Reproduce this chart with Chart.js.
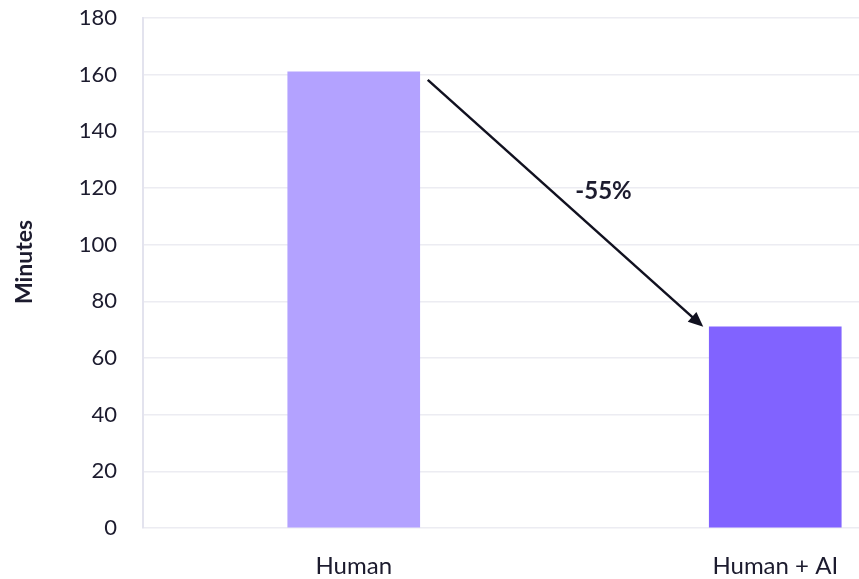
<!DOCTYPE html>
<html>
<head>
<meta charset="utf-8">
<script src="https://cdn.jsdelivr.net/npm/chart.js@4.4.1/dist/chart.umd.min.js"></script>
<style>
  html, body { margin: 0; padding: 0; background: #ffffff; overflow: hidden; }
  #wrap { width: 986px; height: 579px; position: relative; }
</style>
</head>
<body>
<div id="wrap"><canvas id="c"></canvas></div>
<script>
const categories = ['Human', 'Human + AI'];
const minutes = [161, 71];
const barColors = ['#b3a2ff', '#8163ff'];
const yTicks = { min: 0, max: 180, step: 20 };
const changeLabel = '-55%';
const axisTitle = 'Minutes';

const textColor = '#1c1b2e';
const fontFamily = 'Lato, "Noto Sans", sans-serif';

const arrowPlugin = {
  id: 'arrowPlugin',
  afterDatasetsDraw(chart) {
    const meta = chart.getDatasetMeta(0);
    const a = meta.data[0], b = meta.data[1];
    if (!a || !b) return;
    const ctx = chart.ctx;
    const x1 = a.x + a.width / 2 + 8, y1 = a.y + 8;
    const x2 = b.x - b.width / 2 - 6, y2 = b.y;
    const ang = Math.atan2(y2 - y1, x2 - x1);
    const headLen = 15, headW = 6.5;
    ctx.save();
    ctx.strokeStyle = '#111120';
    ctx.fillStyle = '#111120';
    ctx.lineWidth = 2.5;
    ctx.beginPath();
    ctx.moveTo(x1, y1);
    ctx.lineTo(x2 - Math.cos(ang) * headLen * 0.8, y2 - Math.sin(ang) * headLen * 0.8);
    ctx.stroke();
    ctx.beginPath();
    ctx.moveTo(x2, y2);
    const bx = x2 - Math.cos(ang) * headLen, by = y2 - Math.sin(ang) * headLen;
    ctx.lineTo(bx + Math.sin(ang) * headW, by - Math.cos(ang) * headW);
    ctx.lineTo(bx - Math.sin(ang) * headW, by + Math.cos(ang) * headW);
    ctx.closePath();
    ctx.fill();
    const mx = (x1 + x2) / 2, my = (y1 + y2) / 2;
    ctx.font = 'bold 24px ' + fontFamily;
    ctx.fillStyle = textColor;
    ctx.textAlign = 'center';
    ctx.textBaseline = 'middle';
    ctx.fillText(changeLabel, mx + 38, my - 12);
    ctx.restore();
  }
};

const yTitlePlugin = {
  id: 'yTitlePlugin',
  afterDraw(chart) {
    const ctx = chart.ctx;
    const area = chart.chartArea;
    ctx.save();
    ctx.font = 'bold 23px ' + fontFamily;
    ctx.fillStyle = textColor;
    ctx.textAlign = 'center';
    ctx.textBaseline = 'middle';
    ctx.translate(25, (area.top + area.bottom) / 2 - 11);
    ctx.rotate(-Math.PI / 2);
    ctx.fillText(axisTitle, 0, 0);
    ctx.restore();
  }
};

new Chart(document.getElementById('c'), {
  type: 'bar',
  data: {
    labels: categories,
    datasets: [{
      data: minutes,
      backgroundColor: barColors,
      borderWidth: 0,
      barThickness: 132
    }]
  },
  options: {
    responsive: true,
    maintainAspectRatio: false,
    animation: false,
    layout: { padding: { left: 0, right: 0, top: 18, bottom: 0 } },
    plugins: {
      legend: { display: false },
      tooltip: { enabled: false },
      title: { display: false }
    },
    scales: {
      x: {
        offset: true,
        grid: { display: false, drawTicks: false },
        border: { display: false },
        ticks: {
          color: textColor,
          font: { family: fontFamily, size: 24 },
          padding: 24
        },
        afterFit(scale) { scale.height = 51; scale.paddingLeft = 0; scale.paddingRight = 0; }
      },
      y: {
        min: yTicks.min,
        max: yTicks.max,
        ticks: {
          stepSize: yTicks.step,
          color: textColor,
          font: { family: fontFamily, size: 22 },
          padding: 26
        },
        grid: { color: '#ececf2', lineWidth: 1.5, drawTicks: false },
        border: { display: true, color: '#e3e3ee', width: 2 },
        afterFit(scale) { scale.width = 143; scale.paddingTop = 0; scale.paddingBottom = 0; }
      }
    }
  },
  plugins: [arrowPlugin, yTitlePlugin]
});
</script>
</body>
</html>
